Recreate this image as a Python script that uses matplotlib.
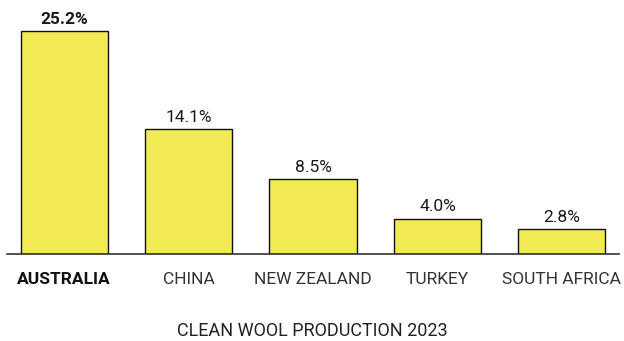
import matplotlib.pyplot as plt

plt.rcParams['font.family'] = ['Roboto', 'DejaVu Sans']

countries = ['AUSTRALIA', 'CHINA', 'NEW ZEALAND', 'TURKEY', 'SOUTH AFRICA']
shares = [25.2, 14.1, 8.5, 4.0, 2.8]
title = 'CLEAN WOOL PRODUCTION 2023'

fig = plt.figure(figsize=(6.24, 3.41), dpi=100)
ax = fig.add_axes([7 / 624, 87 / 341, 612 / 624, 244 / 341])

x = range(len(countries))
ax.bar(x, shares, width=0.7, color='#f2ea52', edgecolor='#111111', linewidth=1.0)

for i, v in enumerate(shares):
    bold = i == 0
    ax.annotate('%.1f%%' % v, (i, v), xytext=(0, 3), textcoords='offset points',
                ha='center', va='bottom', fontsize=12.5,
                fontweight='bold' if bold else 'normal', color='#1a1a1a')

ax.set_xlim(-0.46, 4.46)
ax.set_ylim(0, 27.6)
ax.set_xticks(list(x))
ax.set_xticklabels(countries, fontsize=12.5, color='#333333')
ax.get_xticklabels()[0].set_fontweight('bold')
ax.get_xticklabels()[0].set_color('#111111')
ax.tick_params(axis='x', length=0, pad=13)
ax.set_yticks([])
for s in ['top', 'right', 'left']:
    ax.spines[s].set_visible(False)
ax.spines['bottom'].set_color('#333333')
ax.spines['bottom'].set_linewidth(1.2)

fig.text(0.5, 10 / 341, title, ha='center', va='center', fontsize=13,
         color='#222222')

fig.savefig('out.png', dpi=100)
